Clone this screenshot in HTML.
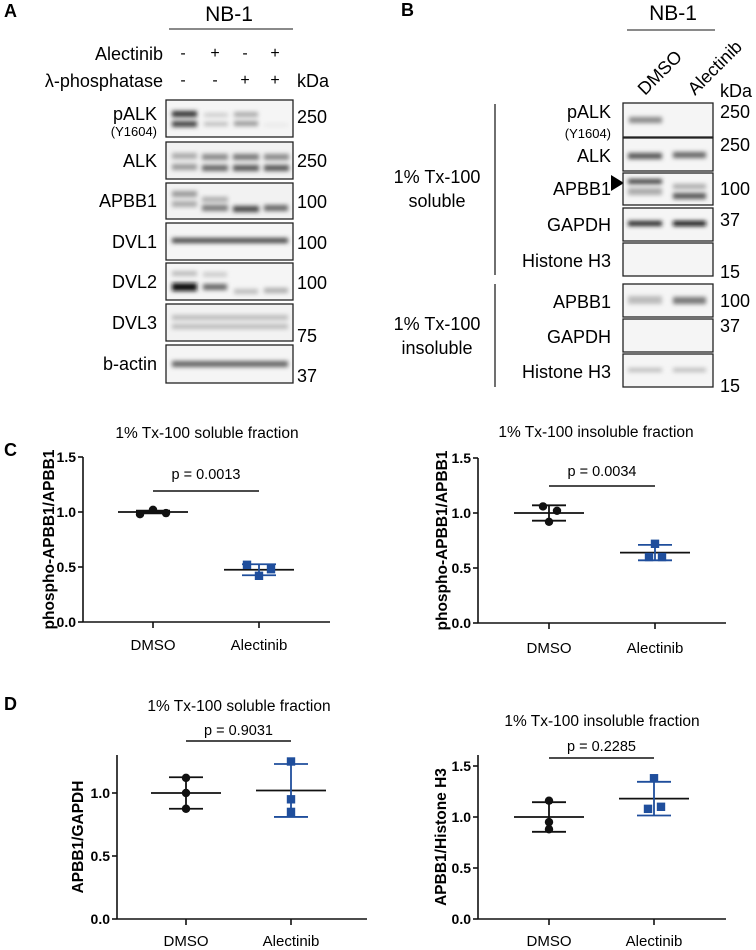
<!DOCTYPE html>
<html><head><meta charset="utf-8">
<style>
html,body{margin:0;padding:0;background:#fff;}
svg{display:block;font-family:"Liberation Sans",sans-serif;}
</style></head>
<body>
<svg id="fig" width="756" height="950" viewBox="0 0 756 950">
<defs>
<filter id="blur" x="-20%" y="-100%" width="140%" height="300%"><feGaussianBlur stdDeviation="2.2"/></filter>
</defs>

<!-- Panel A -->
<g>
<text x="4" y="17" font-size="18" font-weight="bold">A</text>
<text x="229" y="21" font-size="21" text-anchor="middle">NB-1</text>
<line x1="169" y1="29" x2="293" y2="29" stroke="#444" stroke-width="1.3"/>
<text x="163" y="60" font-size="18" text-anchor="end">Alectinib</text>
<text x="163" y="87" font-size="18" text-anchor="end">λ-phosphatase</text>
<g font-size="16" text-anchor="middle">
<text x="183" y="58">-</text><text x="215" y="58">+</text><text x="245" y="58">-</text><text x="275" y="58">+</text>
<text x="183" y="85">-</text><text x="215" y="85">-</text><text x="245" y="85">+</text><text x="275" y="85">+</text>
</g>
<text x="297" y="87" font-size="18">kDa</text>
<g font-size="18" text-anchor="end">
<text x="157" y="120">pALK</text><text x="157" y="136" font-size="13">(Y1604)</text>
<text x="157" y="167">ALK</text>
<text x="157" y="207">APBB1</text>
<text x="157" y="248">DVL1</text>
<text x="157" y="288">DVL2</text>
<text x="157" y="329">DVL3</text>
<text x="157" y="370">b-actin</text>
</g>
<g font-size="18">
<text x="297" y="123">250</text><text x="297" y="167">250</text><text x="297" y="208">100</text>
<text x="297" y="249">100</text><text x="297" y="289">100</text><text x="297" y="342">75</text><text x="297" y="382">37</text>
</g>
<g fill="none" stroke="#222" stroke-width="1.3">
<rect x="166" y="100" width="127" height="37" fill="#f5f5f5"/>
<rect x="166" y="142" width="127" height="37" fill="#f2f2f2"/>
<rect x="166" y="183" width="127" height="36" fill="#f2f2f2"/>
<rect x="166" y="223" width="127" height="37" fill="#f5f5f5"/>
<rect x="166" y="263" width="127" height="37" fill="#f5f5f5"/>
<rect x="166" y="304" width="127" height="37" fill="#f2f2f2"/>
<rect x="166" y="345" width="127" height="38" fill="#f5f5f5"/>
</g>
<g filter="url(#blur)">
<rect x="172" y="111" width="25" height="6" fill="#333"/><rect x="172" y="121" width="25" height="6" fill="#444"/>
<rect x="204" y="113" width="24" height="4" fill="#ccc"/><rect x="204" y="122" width="24" height="4" fill="#bbb"/>
<rect x="234" y="112" width="24" height="5" fill="#aaa"/><rect x="234" y="121" width="24" height="5" fill="#999"/>
<rect x="264" y="124" width="24" height="2" fill="#e0e0e0"/>
<rect x="172" y="153" width="25" height="6" fill="#aaa"/><rect x="172" y="164" width="25" height="6" fill="#999"/>
<rect x="202" y="154" width="26" height="6" fill="#888"/><rect x="202" y="165" width="26" height="6" fill="#666"/>
<rect x="233" y="154" width="26" height="6" fill="#777"/><rect x="233" y="165" width="26" height="6" fill="#555"/>
<rect x="264" y="154" width="25" height="6" fill="#888"/><rect x="264" y="165" width="25" height="6" fill="#555"/>
<rect x="172" y="191" width="25" height="6" fill="#999"/><rect x="172" y="201" width="25" height="6" fill="#aaa"/>
<rect x="202" y="197" width="26" height="5" fill="#aaa"/><rect x="202" y="205" width="26" height="6" fill="#777"/>
<rect x="233" y="206" width="26" height="6" fill="#444"/>
<rect x="264" y="205" width="24" height="6" fill="#666"/>
<rect x="172" y="238" width="116" height="5" fill="#444"/>
<rect x="172" y="283" width="25" height="8" fill="#111"/><rect x="172" y="271" width="25" height="5" fill="#bbb"/>
<rect x="203" y="284" width="24" height="6" fill="#666"/><rect x="203" y="272" width="24" height="5" fill="#ccc"/>
<rect x="234" y="289" width="24" height="5" fill="#bbb"/><rect x="264" y="288" width="24" height="5" fill="#aaa"/>
<rect x="172" y="315" width="116" height="5" fill="#bbb"/><rect x="172" y="324" width="116" height="5" fill="#bbb"/>
<rect x="172" y="361" width="116" height="6" fill="#666"/>
</g>
</g>

<!-- Panel B -->
<g>
<text x="401" y="16" font-size="18" font-weight="bold">B</text>
<text x="673" y="20" font-size="21" text-anchor="middle">NB-1</text>
<line x1="627" y1="30" x2="715" y2="30" stroke="#444" stroke-width="1.3"/>
<text x="0" y="0" font-size="18" transform="translate(645,96) rotate(-45)">DMSO</text>
<text x="0" y="0" font-size="18" transform="translate(695,96) rotate(-45)">Alectinib</text>
<text x="720" y="97" font-size="18">kDa</text>
<line x1="495" y1="104" x2="495" y2="275" stroke="#222" stroke-width="1.3"/>
<line x1="495" y1="284" x2="495" y2="387" stroke="#222" stroke-width="1.3"/>
<g font-size="18" text-anchor="middle">
<text x="437" y="183">1% Tx-100</text><text x="437" y="207">soluble</text>
<text x="437" y="330">1% Tx-100</text><text x="437" y="354">insoluble</text>
</g>
<g font-size="18" text-anchor="end">
<text x="611" y="118">pALK</text><text x="611" y="138" font-size="13">(Y1604)</text>
<text x="611" y="162">ALK</text>
<text x="611" y="195">APBB1</text>
<text x="611" y="231">GAPDH</text>
<text x="611" y="267">Histone H3</text>
<text x="611" y="308">APBB1</text>
<text x="611" y="343">GAPDH</text>
<text x="611" y="378">Histone H3</text>
</g>
<polygon points="611,175 611,191 624,183" fill="#000"/>
<g font-size="18">
<text x="720" y="118">250</text><text x="720" y="151">250</text><text x="720" y="195">100</text>
<text x="720" y="226">37</text><text x="720" y="278">15</text><text x="720" y="307">100</text>
<text x="720" y="332">37</text><text x="720" y="392">15</text>
</g>
<g fill="#f5f5f5" stroke="#222" stroke-width="1.3">
<rect x="623" y="103" width="90" height="34"/><rect x="623" y="138" width="90" height="33"/>
<rect x="623" y="173" width="90" height="32"/><rect x="623" y="208" width="90" height="33"/>
<rect x="623" y="243" width="90" height="33"/><rect x="623" y="284" width="90" height="33"/>
<rect x="623" y="319" width="90" height="33"/><rect x="623" y="354" width="90" height="33"/>
</g>
<g filter="url(#blur)">
<rect x="629" y="117" width="33" height="6" fill="#888"/>
<rect x="628" y="153" width="34" height="6" fill="#555"/><rect x="673" y="152" width="33" height="6" fill="#666"/>
<rect x="628" y="179" width="34" height="5" fill="#444"/><rect x="628" y="188" width="34" height="7" fill="#aaa"/>
<rect x="673" y="184" width="33" height="5" fill="#aaa"/><rect x="673" y="193" width="33" height="6" fill="#555"/>
<rect x="628" y="221" width="34" height="5" fill="#222"/><rect x="673" y="221" width="33" height="5" fill="#111"/>
<rect x="628" y="296" width="34" height="8" fill="#bbb"/><rect x="673" y="297" width="33" height="7" fill="#777"/>
<rect x="628" y="368" width="34" height="4" fill="#bbb"/><rect x="673" y="368" width="33" height="4" fill="#bbb"/>
</g>
</g>

<text x="4" y="456" font-size="18" font-weight="bold">C</text>
<text x="4" y="710" font-size="18" font-weight="bold">D</text>
<g id="plots"></g>
</svg>
<script>
// Data
const categories = ["DMSO", "Alectinib"];
const c1Dmso = [0.98, 1.02, 0.99];
const c1Alec = [0.52, 0.48, 0.42];
const c1Mean = [1.0, 0.475];
const c1Sd = [0.012, 0.05];
const c2Dmso = [1.06, 1.02, 0.92];
const c2Alec = [0.72, 0.60, 0.60];
const c2Mean = [1.0, 0.64];
const c2Sd = [0.07, 0.07];
const d1Dmso = [1.12, 1.0, 0.875];
const d1Alec = [1.25, 0.95, 0.85];
const d1Mean = [1.0, 1.02];
const d1Sd = [0.125, 0.21];
const d2Dmso = [1.16, 0.95, 0.88];
const d2Alec = [1.38, 1.08, 1.10];
const d2Mean = [1.0, 1.18];
const d2Sd = [0.145, 0.165];
const yTicksA = [0, 0.5, 1.0, 1.5];
const yTicksB = [0, 0.5, 1.0];
const pLabels = ["p = 0.0013", "p = 0.0034", "p = 0.9031", "p = 0.2285"];
const titles = ["1% Tx-100 soluble fraction","1% Tx-100 insoluble fraction","1% Tx-100 soluble fraction","1% Tx-100 insoluble fraction"];
const yTitles = ["phospho-APBB1/APBB1","phospho-APBB1/APBB1","APBB1/GAPDH","APBB1/Histone H3"];

const NS = "http://www.w3.org/2000/svg";
const root = document.getElementById("plots");
function mk(tag, attrs, parent) {
  const e = document.createElementNS(NS, tag);
  for (const k in attrs) e.setAttribute(k, attrs[k]);
  (parent || root).appendChild(e);
  return e;
}
const plots = [
  {ax:83, y0:622, top:457, ppu:110, xEnd:330, cx:[153,259], ytx:48, tx:207, ty:438, py:479, ply:491, xly:650, ticks:yTicksA, d:c1Dmso, a:c1Alec, m:c1Mean, s:c1Sd, jitD:[-13,0,13], jitA:[-12,12,0]},
  {ax:478, y0:623, top:458, ppu:110, xEnd:726, cx:[549,655], ytx:441, tx:596, ty:437, py:476, ply:486, xly:653, ticks:yTicksA, d:c2Dmso, a:c2Alec, m:c2Mean, s:c2Sd, jitD:[-6,8,0], jitA:[0,-6,7]},
  {ax:117, y0:919, top:755, ppu:126, xEnd:367, cx:[186,291], ytx:77, tx:239, ty:711, py:735, ply:741, xly:946, ticks:yTicksB, d:d1Dmso, a:d1Alec, m:d1Mean, s:d1Sd, jitD:[0,0,0], jitA:[0,0,0]},
  {ax:478, y0:919, top:755, ppu:102, xEnd:726, cx:[549,654], ytx:440, tx:602, ty:726, py:751, ply:758, xly:946, ticks:[0,0.5,1.0,1.5], d:d2Dmso, a:d2Alec, m:d2Mean, s:d2Sd, jitD:[0,0,0], jitA:[0,-6,7]}
];
plots.forEach((p, i) => {
  const y = v => p.y0 - v * p.ppu;
  const g = mk("g", {});
  
  
  const t = mk("text", {x:p.tx, y:p.ty, "font-size":15.5, "text-anchor":"middle"}, g);
  t.textContent = titles[i];
  
  
  const yt = mk("text", {x:0, y:0, "font-size":15.5, "font-weight":"bold", "text-anchor":"middle", transform:`translate(${p.ytx+6},${(p.y0+p.top)/2}) rotate(-90)`}, g);
  yt.textContent = yTitles[i];
  
  
  mk("line", {x1:p.ax, y1:p.top, x2:p.ax, y2:p.y0, stroke:"#111", "stroke-width":1.6}, g);
  mk("line", {x1:p.ax, y1:p.y0, x2:p.xEnd, y2:p.y0, stroke:"#111", "stroke-width":1.6}, g);
  p.ticks.forEach(v => {
    mk("line", {x1:p.ax-5, y1:y(v), x2:p.ax, y2:y(v), stroke:"#111", "stroke-width":1.6}, g);
    const tl = mk("text", {x:p.ax-7, y:y(v)+5, "font-size":14, "font-weight":"bold", "text-anchor":"end"}, g);
    tl.textContent = v.toFixed(1);
    
    
  });
  categories.forEach((c, k) => {
    mk("line", {x1:p.cx[k], y1:p.y0, x2:p.cx[k], y2:p.y0+6, stroke:"#111", "stroke-width":1.6}, g);
    const xl = mk("text", {x:p.cx[k], y:p.xly, "font-size":15, "text-anchor":"middle"}, g);
    xl.textContent = c;
    
    
    const col = k === 0 ? "#111" : "#1f4e9c";
    const m = p.m[k], s = p.s[k];
    mk("line", {x1:p.cx[k]-35, y1:y(m), x2:p.cx[k]+35, y2:y(m), stroke:"#111", "stroke-width":1.8}, g);
    mk("line", {x1:p.cx[k], y1:y(m+s), x2:p.cx[k], y2:y(m-s), stroke:col, "stroke-width":1.8}, g);
    mk("line", {x1:p.cx[k]-17, y1:y(m+s), x2:p.cx[k]+17, y2:y(m+s), stroke:col, "stroke-width":1.8}, g);
    mk("line", {x1:p.cx[k]-17, y1:y(m-s), x2:p.cx[k]+17, y2:y(m-s), stroke:col, "stroke-width":1.8}, g);
    const vals = k === 0 ? p.d : p.a;
    const jit = k === 0 ? p.jitD : p.jitA;
    vals.forEach((v, j) => {
      const px = p.cx[k] + jit[j];
      let mark;
      if (k === 0) mark = mk("circle", {cx:px, cy:y(v), r:4.2, fill:"#111"}, g);
      else mark = mk("rect", {x:px-4.2, y:y(v)-4.2, width:8.4, height:8.4, fill:"#1f4e9c"}, g);
      
      
    });
  });
  const pl = mk("text", {x:(p.cx[0]+p.cx[1])/2, y:p.py, "font-size":14.5, "text-anchor":"middle"}, g);
  pl.textContent = pLabels[i];
  
  
  mk("line", {x1:p.cx[0], y1:p.ply, x2:p.cx[1], y2:p.ply, stroke:"#111", "stroke-width":1.6}, g);
});
</script>
</body></html>
